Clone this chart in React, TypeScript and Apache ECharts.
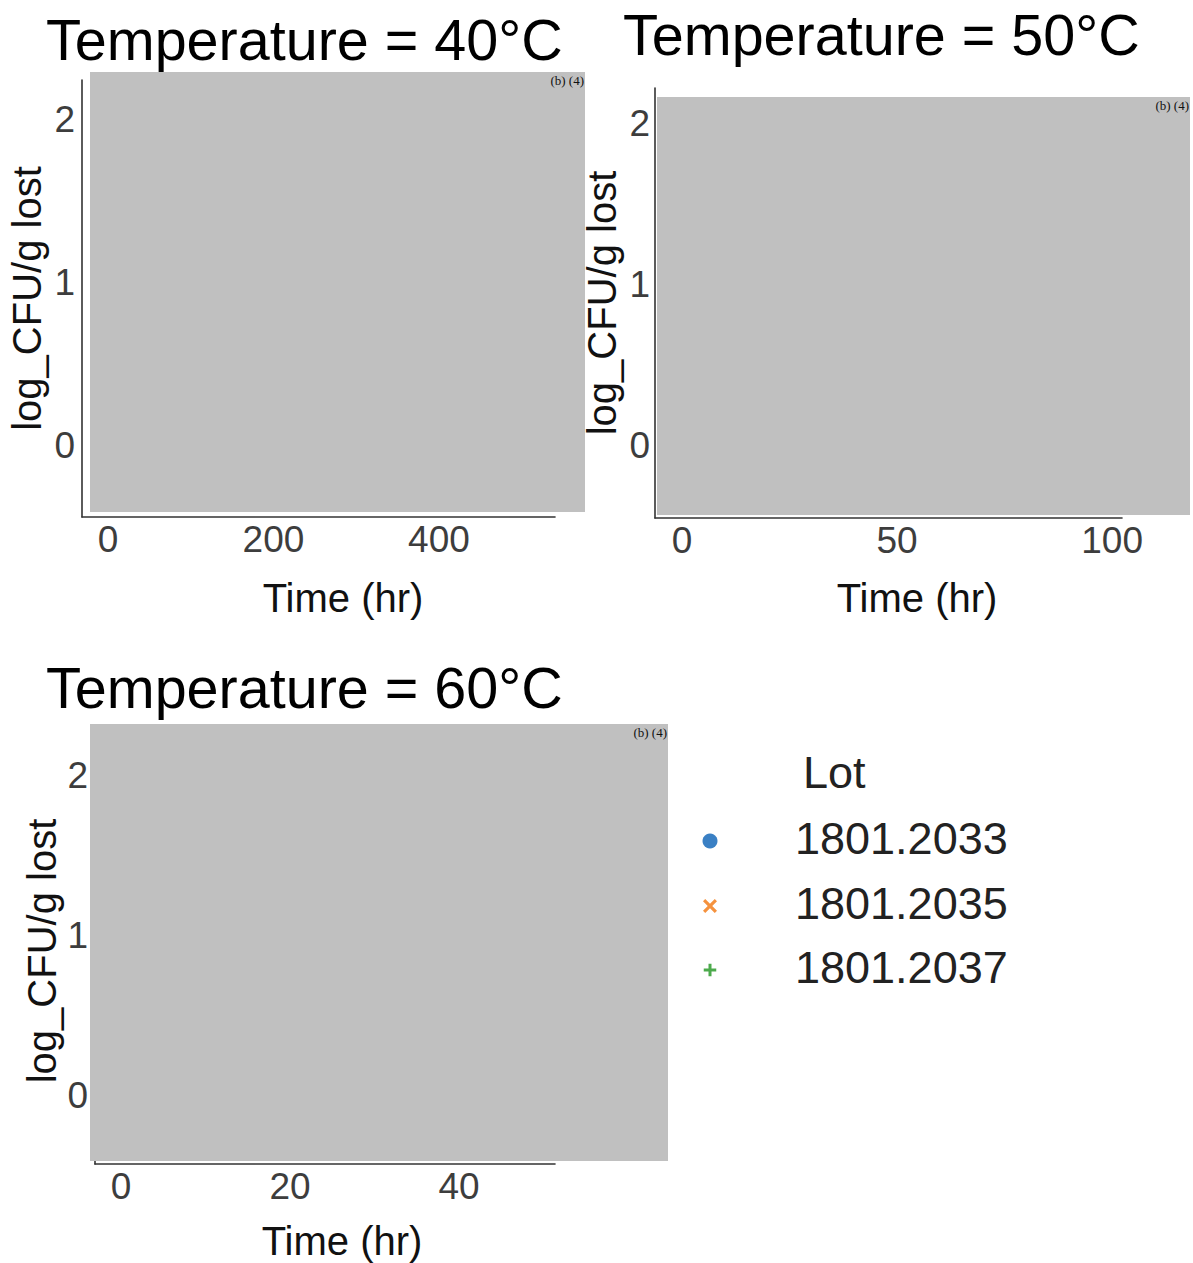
import React, { useEffect, useRef } from "react";
import * as echarts from "echarts";

// Lots (legend categories)
const lots = ["1801.2033", "1801.2035", "1801.2037"];
const lotColors = ["#3a80c4", "#f5923e", "#4caa4c"];
const lotSymbols = [
  "circle",
  "path://M1.6,0L5,3.4L8.4,0L10,1.6L6.6,5L10,8.4L8.4,10L5,6.6L1.6,10L0,8.4L3.4,5L0,1.6Z",
  "path://M3.8,0H6.2V3.8H10V6.2H6.2V10H3.8V6.2H0V3.8H3.8Z",
];

// Panel titles
const panelTitles = ["Temperature = 40°C", "Temperature = 50°C", "Temperature = 60°C"];

// Tick labels per panel
const xTicks40 = [0, 200, 400];
const xTicks50 = [0, 50, 100];
const xTicks60 = [0, 20, 40];
const yTicks = [0, 1, 2];

// Data points: redacted in the source (b)(4) — nothing is visible
const data40: number[][][] = [[], [], []];
const data50: number[][][] = [[], [], []];
const data60: number[][][] = [[], [], []];

const FONT = "'Liberation Sans', Arial, sans-serif";

// unit shapes (10x10) for legend glyphs
const crossPts = [
  [1.6, 0], [5, 3.4], [8.4, 0], [10, 1.6], [6.6, 5], [10, 8.4],
  [8.4, 10], [5, 6.6], [1.6, 10], [0, 8.4], [3.4, 5], [0, 1.6],
];
const plusPts = [
  [3.8, 0], [6.2, 0], [6.2, 3.8], [10, 3.8], [10, 6.2], [6.2, 6.2],
  [6.2, 10], [3.8, 10], [3.8, 6.2], [0, 6.2], [0, 3.8], [3.8, 3.8],
];

export default function App() {
  const ref = useRef<HTMLDivElement>(null);

  useEffect(() => {
    document.body.style.margin = "0";
    if (!ref.current) return;
    const chart = echarts.init(ref.current, null, { renderer: "svg" });

    const xAxisBase = (
      gridIndex: number,
      min: number,
      max: number,
      ticks: number[],
      nameGap: number,
      shift: number
    ) => ({
      gridIndex,
      type: "value",
      min,
      max,
      axisLine: { show: true, onZero: false, lineStyle: { color: "#333", width: 1.6 } },
      axisTick: { show: false },
      splitLine: { show: false },
      axisLabel: {
        customValues: ticks,
        margin: 4,
        fontSize: 37,
        color: "#3d3d3d",
        fontFamily: FONT,
      },
      name: "Time (hr)",
      nameLocation: "middle",
      nameGap,
      nameTextStyle: {
        fontSize: 40,
        color: "#111",
        fontFamily: FONT,
        padding: [0, 0, 0, shift],
      },
    });

    const yAxisBase = (
      gridIndex: number,
      min: number,
      max: number,
      margin: number,
      nameGap: number
    ) => ({
      gridIndex,
      type: "value",
      min,
      max,
      axisLine: { show: true, onZero: false, lineStyle: { color: "#333", width: 1.6 } },
      axisTick: { show: false },
      splitLine: { show: false },
      axisLabel: {
        customValues: yTicks,
        margin,
        fontSize: 37,
        color: "#3d3d3d",
        fontFamily: FONT,
      },
      name: "log_CFU/g lost",
      nameLocation: "middle",
      nameGap,
      nameTextStyle: { fontSize: 40, color: "#111", fontFamily: FONT },
    });

    const panelData = [data40, data50, data60];
    const series: any[] = [];
    panelData.forEach((pd, p) => {
      pd.forEach((d, i) => {
        series.push({
          type: "scatter",
          name: lots[i],
          xAxisIndex: p,
          yAxisIndex: p,
          data: d,
          symbol: lotSymbols[i],
          symbolSize: 12,
          itemStyle: { color: lotColors[i] },
        });
      });
    });

    const grey = "#c0c0c0";
    const redactText = (x: number, y: number) => ({
      type: "text",
      z: 101,
      x,
      y,
      style: {
        text: "(b) (4)",
        fill: "#111",
        font: "13px 'Liberation Serif', 'Times New Roman', serif",
        textAlign: "right",
        textVerticalAlign: "middle",
      },
    });

    // Legend drawn as graphic (icon column + label column)
    const legendIconX = 710;
    const legendTextX = 795;
    const legendRowY = [840, 905, 969];
    const legendEls: any[] = [
      {
        type: "text",
        z: 100,
        x: 803,
        y: 772,
        style: { text: "Lot", fill: "#222", font: `45px ${FONT}`, textVerticalAlign: "middle" },
      },
    ];
    lots.forEach((name, i) => {
      const cy = legendRowY[i];
      if (i === 0) {
        legendEls.push({
          type: "circle",
          z: 100,
          shape: { cx: legendIconX, cy: cy + 1, r: 7.5 },
          style: { fill: lotColors[i] },
        });
      } else {
        const pts = i === 1 ? crossPts : plusPts;
        const s = i === 1 ? 1.4 : 1.25;
        legendEls.push({
          type: "polygon",
          z: 100,
          shape: {
            points: pts.map(([px, py]) => [legendIconX + (px - 5) * s, cy + 1 + (py - 5) * s]),
          },
          style: { fill: lotColors[i] },
        });
      }
      legendEls.push({
        type: "text",
        z: 100,
        x: legendTextX,
        y: cy - 2,
        style: { text: name, fill: "#222", font: `45px ${FONT}`, textVerticalAlign: "middle" },
      });
    });

    const option: any = {
      animation: false,
      backgroundColor: "#ffffff",
      title: [
        { text: panelTitles[0], left: 46, top: 11 },
        { text: panelTitles[1], left: 623, top: 6 },
        { text: panelTitles[2], left: 46, top: 659 },
      ].map((t) => ({
        ...t,
        padding: 0,
        textStyle: { fontSize: 57.5, fontWeight: "normal", color: "#000", fontFamily: FONT },
      })),
      grid: [
        { left: 82, top: 80, width: 473, height: 437, outerBoundsMode: "none" },
        { left: 655, top: 88, width: 467, height: 430, outerBoundsMode: "none" },
        { left: 95, top: 738, width: 460, height: 426, outerBoundsMode: "none" },
      ],
      xAxis: [
        xAxisBase(0, -31.4, 540.2, xTicks40, 61, 49),
        xAxisBase(1, -6.28, 102.3, xTicks50, 60, 57),
        xAxisBase(2, -3.08, 51.36, xTicks60, 57, 34),
      ],
      yAxis: [
        yAxisBase(0, -0.443, 2.246, 7, 35),
        yAxisBase(1, -0.446, 2.217, 5, 33),
        yAxisBase(2, -0.426, 2.232, 7, 33),
      ],
      series,
      graphic: [
        { type: "rect", z: 100, shape: { x: 90, y: 72, width: 495, height: 440 }, style: { fill: grey } },
        { type: "rect", z: 100, shape: { x: 657, y: 97, width: 533, height: 418 }, style: { fill: grey } },
        { type: "rect", z: 100, shape: { x: 90, y: 724, width: 578, height: 437 }, style: { fill: grey } },
        redactText(584, 80),
        redactText(1189, 105),
        redactText(667, 732),
        ...legendEls,
      ],
    };

    chart.setOption(option);
    return () => chart.dispose();
  }, []);

  return <div ref={ref} style={{ width: 1193, height: 1263 }} />;
}
